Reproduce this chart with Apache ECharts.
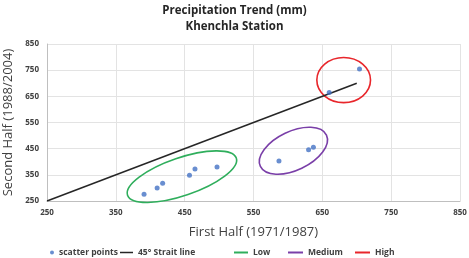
<!DOCTYPE html>
<html>
<head>
<meta charset="utf-8">
<script src="https://cdn.jsdelivr.net/npm/echarts@6/dist/echarts.min.js"></script>
<style>
  html, body { margin: 0; padding: 0; background: #fff; }
  #chart { width: 469px; height: 258px; }
</style>
</head>
<body>
<div id="chart"></div>
<script>
// values
const firstHalf  = [391, 410, 418, 457, 465, 497, 587, 630, 637, 660, 704];
const secondHalf = [276, 300, 318, 348, 372, 380, 403, 446, 455, 665, 754];
const lineX = [250, 700];
const lineY = [250, 700];
const axisTicks = [250, 350, 450, 550, 650, 750, 850];

// groups: center x, center y, tip of long axis x, y, short/long ratio
const lowZone    = [446, 343, 525, 414, 0.33];
const mediumZone = [608, 442, 656, 502, 0.53];
const highZone   = [681, 712, 720, 712, 0.84];

const font = 'Open Sans';

function renderEllipse(params, api) {
    const c = api.coord([api.value(0), api.value(1)]);
    const t = api.coord([api.value(2), api.value(3)]);
    const dx = t[0] - c[0], dy = t[1] - c[1];
    const rx = Math.sqrt(dx * dx + dy * dy);
    return {
        type: 'ellipse',
        x: c[0],
        y: c[1],
        rotation: -Math.atan2(dy, dx),
        shape: { cx: 0, cy: 0, rx: rx, ry: rx * api.value(4) },
        style: { fill: 'none', stroke: api.visual('color'), lineWidth: 1.6 }
    };
}

function zone(name, color, vals) {
    return {
        name: name,
        type: 'custom',
        renderItem: renderEllipse,
        itemStyle: { color: color },
        data: [vals],
        silent: true,
        z: 1
    };
}

const axisCommon = {
    type: 'value',
    min: axisTicks[0],
    max: axisTicks[axisTicks.length - 1],
    interval: 100,
    axisLine: { show: true, lineStyle: { color: '#bfbfbf', width: 1 } },
    axisTick: { show: false },
    splitLine: { lineStyle: { color: '#e3e3e3', width: 1 } },
    axisLabel: { color: '#404040', fontFamily: font, fontWeight: 'bold', fontSize: 8 },
    nameLocation: 'middle',
    nameTextStyle: { color: '#404040', fontFamily: font, fontSize: 13 }
};

const legendText = { color: '#404040', fontFamily: font, fontWeight: 'bold', fontSize: 8.5 };

const option = {
    animation: false,
    title: {
        text: 'Precipitation Trend (mm)\nKhenchla Station',
        left: 'center',
        top: -2,
        textStyle: { fontFamily: font, fontWeight: 'bold', fontSize: 11.5, color: '#262626', lineHeight: 16 }
    },
    grid: { left: 47, right: 9, top: 44, bottom: 57, outerBoundsMode: 'none' },
    xAxis: Object.assign({}, axisCommon, { name: 'First Half (1971/1987)', nameGap: 25 }),
    yAxis: Object.assign({}, axisCommon, { name: 'Second Half (1988/2004)', nameGap: 32 }),
    legend: [
        {
            data: [{ name: 'scatter points', icon: 'circle' }],
            left: 50, top: 248, padding: 0,
            itemWidth: 4, itemHeight: 4,
            textStyle: legendText
        },
        {
            data: [{ name: '45° Strait line', icon: 'rect' }],
            left: 120, top: 248, padding: 0,
            itemWidth: 13, itemHeight: 1.5,
            textStyle: legendText
        },
        {
            data: [{ name: 'Low', icon: 'rect' }],
            left: 234, top: 248, padding: 0,
            itemWidth: 14, itemHeight: 2,
            textStyle: legendText
        },
        {
            data: [{ name: 'Medium', icon: 'rect' }],
            left: 288, top: 248, padding: 0,
            itemWidth: 15, itemHeight: 2,
            textStyle: legendText
        },
        {
            data: [{ name: 'High', icon: 'rect' }],
            left: 355, top: 248, padding: 0,
            itemWidth: 15, itemHeight: 2,
            textStyle: legendText
        }
    ],
    series: [
        {
            name: '45° Strait line',
            type: 'line',
            data: lineX.map((x, i) => [x, lineY[i]]),
            showSymbol: false,
            lineStyle: { color: '#262626', width: 1.5 },
            itemStyle: { color: '#262626' },
            z: 2
        },
        zone('Low', '#2fae5c', lowZone),
        zone('Medium', '#7a3fa8', mediumZone),
        zone('High', '#e8262b', highZone),
        {
            name: 'scatter points',
            type: 'scatter',
            data: firstHalf.map((x, i) => [x, secondHalf[i]]),
            symbolSize: 5,
            itemStyle: { color: '#4472c4' },
            z: 3
        }
    ]
};

const chart = echarts.init(document.getElementById('chart'));
chart.setOption(option);
</script>
</body>
</html>
